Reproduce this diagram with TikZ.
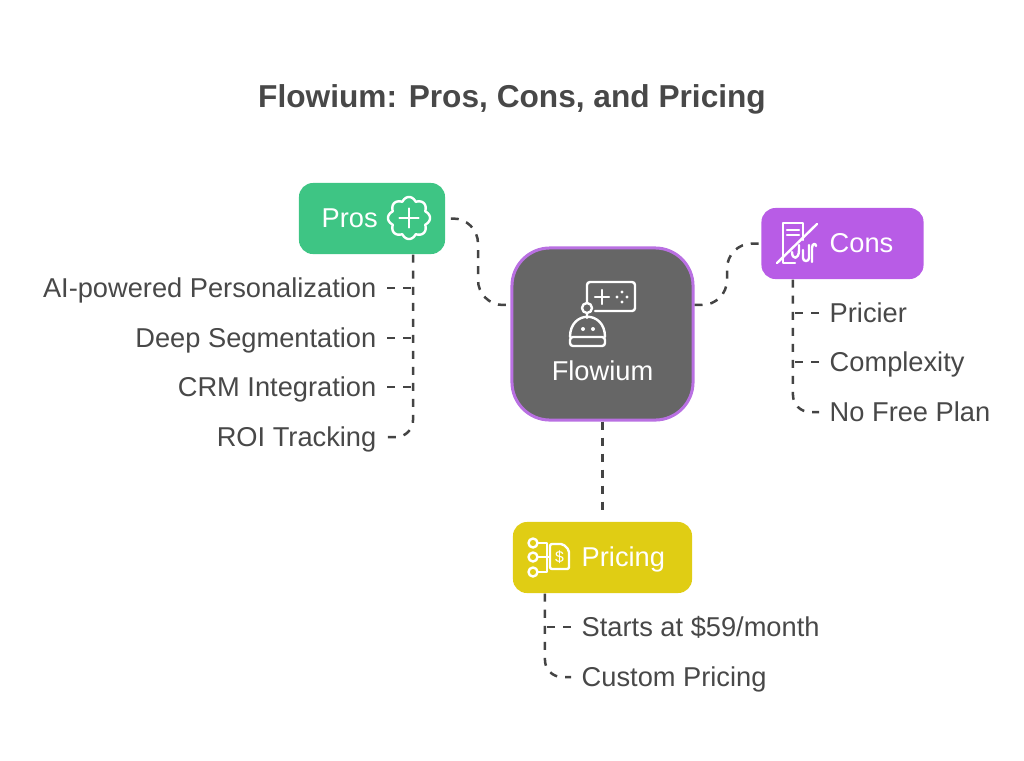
\documentclass[tikz,border=0pt]{standalone}
\usepackage{fontspec}
\setmainfont{Liberation Sans}
\definecolor{inkgray}{HTML}{484848}
\definecolor{linegray}{HTML}{444444}
\definecolor{prosgreen}{HTML}{3EC584}
\definecolor{conspurple}{HTML}{B85CE6}
\definecolor{priceyellow}{HTML}{E0CD14}
\definecolor{hubgray}{HTML}{666666}
\definecolor{hubedge}{HTML}{B970E2}
\tikzset{
  boxnode/.style={minimum width=#1,minimum height=0.71cm,inner sep=0pt,rounded corners=0.14cm},
  boxtext/.style={text=white,inner sep=0pt,text height=0.19cm,text depth=0cm,font=\fontsize{7.75pt}{9pt}\selectfont},
  leaftext/.style={text=inkgray,inner xsep=0.1cm,inner ysep=0pt,text height=0.19cm,text depth=0cm,font=\fontsize{7.75pt}{9pt}\selectfont},
  conn/.style={draw=linegray,line width=0.025cm,dash pattern=on 0.08cm off 0.08cm},
  iconline/.style={draw=white,line width=0.024cm,line cap=round,line join=round}
}
\begin{document}
\begin{tikzpicture}[x=0.01cm,y=-0.01cm]
\useasboundingbox (0,0) rectangle (1024,760);
\node[text=inkgray,anchor=base,font=\fontsize{9pt}{11pt}\selectfont\bfseries] (title) at (512,107) {Flowium: Pros, Cons, and Pricing};

\node[boxnode=1.46cm,fill=prosgreen] (pros) at (372,218.5) {};
\node[boxnode=1.62cm,fill=conspurple] (cons) at (842.5,243.5) {};
\node[boxnode=1.79cm,fill=priceyellow] (pricing) at (602.5,557.5) {};
\node[minimum width=1.81cm,minimum height=1.72cm,inner sep=0pt,rounded corners=0.38cm,fill=hubgray,draw=hubedge,line width=0.03cm] (flowium) at (602.5,334) {};

\node[boxtext,anchor=west] (prostext) at (321,218) {Pros};
\node[boxtext,anchor=west] (constext) at (829,243) {Cons};
\node[boxtext,anchor=west] (pricingtext) at (581,557) {Pricing};
\node[boxtext] (flowiumtext) at (602.5,371) {Flowium};

\node[leaftext,anchor=east] (ai) at (387,288) {AI-powered Personalization};
\node[leaftext,anchor=east] (segment) at (387,338) {Deep Segmentation};
\node[leaftext,anchor=east] (crm) at (387,387) {CRM Integration};
\node[leaftext,anchor=east] (roi) at (387,437) {ROI Tracking};
\node[leaftext,anchor=west] (pricier) at (819,313) {Pricier};
\node[leaftext,anchor=west] (complex) at (819,362) {Complexity};
\node[leaftext,anchor=west] (nofree) at (819,412) {No Free Plan};
\node[leaftext,anchor=west] (starts) at (571,627) {Starts at \$59/month};
\node[leaftext,anchor=west] (custom) at (571,677) {Custom Pricing};

\coordinate (prosdrop) at ([xshift=0.41cm]pros.south);
\coordinate (consdrop) at ([xshift=-0.495cm]cons.south);
\coordinate (pricedrop) at ([xshift=-0.575cm]pricing.south);
\coordinate (prosbend) at (478,305);
\coordinate (consbend) at (727,243.5);

\draw[conn,rounded corners=0.25cm] ([xshift=0.05cm]pros.east) -| (prosbend) -- ([yshift=0.29cm]flowium.west);
\draw[conn,rounded corners=0.25cm] ([yshift=0.29cm]flowium.east) -| (consbend) -- (cons.west);
\draw[conn] (flowium.south) -- ([yshift=0.09cm]pricing.north);

\draw[conn,rounded corners=0.17cm] (prosdrop) |- (roi.east);
\foreach \leaf in {ai,segment,crm} {
\draw[conn] (\leaf.east) -- (\leaf.east -| prosdrop);}
\draw[conn,rounded corners=0.17cm] (consdrop) |- (nofree.west);
\foreach \leaf in {pricier,complex} {
\draw[conn] (\leaf.west) -- (\leaf.west -| consdrop);}
\draw[conn,rounded corners=0.17cm] (pricedrop) |- (custom.west);
\draw[conn] (starts.west) -- (starts.west -| pricedrop);

\draw[iconline] plot[domain=0:360,samples=145,smooth] ({409+(17.5+3.5*abs(cos(4*\x)))*cos(\x)},{218+(17.5+3.5*abs(cos(4*\x)))*sin(\x)});
\draw[iconline] (409,208.5) -- (409,227.5) (399.5,218) -- (418.5,218);

\draw[iconline,rounded corners=0.03cm] (587,303) -- (587,282) -- (635,282) -- (635,311) -- (595,311);
\draw[iconline] (595,297) -- (609,297) (602,290) -- (602,304);
\foreach \dx/\dy in {-5/0,5/0,0/-5,0/5} {
\fill[white] (622+\dx,297+\dy) circle[radius=1.6];}
\draw[iconline] (587,308) circle[radius=5] (587,313) -- (587,318);
\draw[iconline] (570,337) .. controls (570,310) and (605,310) .. (605,337);
\draw[iconline,rounded corners=0.03cm] (570,337) -- (570,346) -- (605,346) -- (605,337) -- cycle;
\fill[white] (583,329) circle[radius=2] (593,329) circle[radius=2];

\draw[iconline] (795,263) -- (783,263) -- (783,223) -- (803,223) -- (803,240);
\draw[iconline] (787,230) -- (799,230) (787,235) -- (799,235);
\draw[iconline] (792,252) .. controls (792,260) and (799,260) .. (799,250) -- (799,245);
\draw[iconline] (803,250) -- (803,258) .. controls (803,262) and (809,262) .. (809,258) -- (809,245);
\draw[iconline] (812,262) -- (812,248) .. controls (812,243) and (816,243) .. (816,246);
\draw[iconline] (777,263) -- (817,224);

\draw[iconline] (533,543) circle[radius=4.5] (533,557) circle[radius=4.5] (533,572) circle[radius=4.5];
\draw[iconline] (538,543) -- (547,543) -- (547,572) -- (538,572) (538,557) -- (550,557);
\draw[iconline,rounded corners=0.02cm] (550,569) -- (550,544) -- (563,544) -- (569,550) -- (569,569) -- cycle;
\node[text=white,inner sep=0pt,font=\fontsize{4.5pt}{5pt}\selectfont] (dollar) at (559.5,557) {\$};
\end{tikzpicture}
\end{document}
